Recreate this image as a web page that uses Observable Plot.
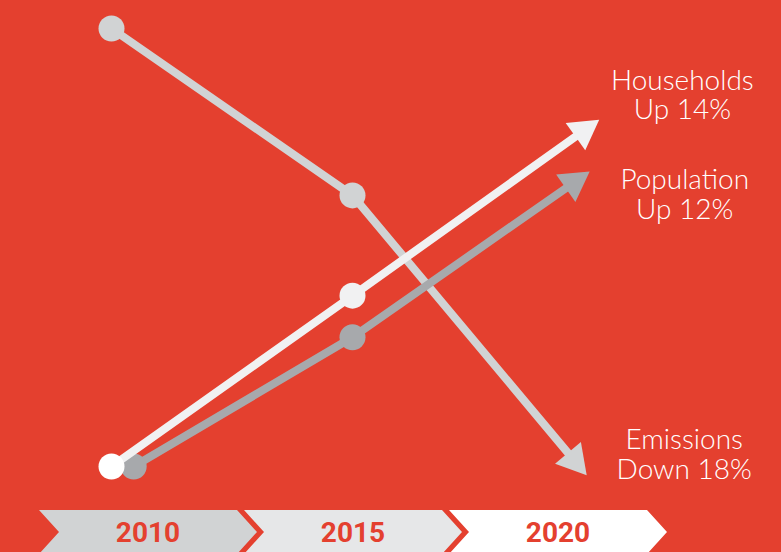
<!DOCTYPE html>
<html><head><meta charset="utf-8">
<script src="https://cdn.jsdelivr.net/npm/d3@7"></script>
<script src="https://cdn.jsdelivr.net/npm/@observablehq/plot@0.6"></script>
<style>
html,body{margin:0;padding:0;background:#e4402f;overflow:hidden;}
#chart svg{display:block;}
#steps{position:relative;height:42px;width:781px;}
.step{position:absolute;top:0;width:218px;height:44px;
  clip-path:polygon(0 0,198px 0,218px 22px,198px 44px,0 44px,20px 22px);
  font:700 28px Roboto,sans-serif;color:#e4402f;display:flex;align-items:center;justify-content:center;}
</style></head>
<body><div id="chart"></div><div id="steps"></div>
<script>
// Illustrative index values (x = year, y = relative level 0–100)
const emissionsX  = [2010, 2015, 2019.6];
const emissionsY  = [100, 61.9, 1.4];
const populationX = [2010.46, 2015, 2019.59];
const populationY = [0, 29.5, 64.8];
const householdsX = [2010, 2015, 2019.79];
const householdsY = [0, 39.0, 76.6];

const emissionsLabel  = "Emissions\nDown 18%";
const populationLabel = "Population\nUp 12%";
const householdsLabel = "Households\nUp 14%";

const yearLabels = ["2010", "2015", "2020"];
const stepColors = ["#d1d3d4", "#e6e7e8", "#ffffff"];

const xOpts = {type: "linear", domain: [2010, 2015], range: [111, 352]};
const yOpts = {type: "linear", domain: [0, 100], range: [466, 28]};
const sx = Plot.scale({x: xOpts});
const sy = Plot.scale({y: yOpts});

const series = [
  {xs: emissionsX,  ys: emissionsY,  label: emissionsLabel,  color: "#d1d3d4", first: "#d1d3d4", dx: 110, dy: -6},
  {xs: populationX, ys: populationY, label: populationLabel, color: "#a7a9ac", first: "#a7a9ac", dx: 111, dy: 12},
  {xs: householdsX, ys: householdsY, label: householdsLabel, color: "#f1f1f2", first: "#ffffff", dx: 99,  dy: -36}
];

const marks = [];
for (const s of series) {
  const pts = s.xs.map((x, i) => ({x, y: s.ys[i]}));
  const a = pts[1], b = pts[2];
  const ddx = sx.apply(b.x) - sx.apply(a.x);
  const ddy = sy.apply(b.y) - sy.apply(a.y);
  const angle = Math.atan2(ddx, -ddy) * 180 / Math.PI;
  marks.push(
    Plot.line(pts, {x: "x", y: "y", stroke: s.color, strokeWidth: 8}),
    Plot.dot(pts.slice(0, 1), {x: "x", y: "y", r: 13, fill: s.first}),
    Plot.dot(pts.slice(1, 2), {x: "x", y: "y", r: 13, fill: s.color}),
    Plot.dot(pts.slice(2), {x: "x", y: "y", r: 12.5, symbol: "triangle", fill: s.color, rotate: angle}),
    Plot.text(pts.slice(2), {x: "x", y: "y", text: () => s.label, dx: s.dx, dy: s.dy,
      fill: "white", fontSize: 28, fontFamily: "Lato, 'Open Sans', sans-serif", fontWeight: 300, lineHeight: 1.06})
  );
}

const plot = Plot.plot({
  width: 781, height: 510,
  margin: 0,
  x: {...xOpts, axis: null},
  y: {...yOpts, axis: null},
  style: {background: "#e4402f", overflow: "visible"},
  marks
});
document.getElementById("chart").append(plot);

const steps = document.getElementById("steps");
yearLabels.forEach((t, i) => {
  const d = document.createElement("div");
  d.className = "step";
  d.style.left = (39 + i * 205) + "px";
  d.style.background = stepColors[i];
  d.textContent = t;
  steps.append(d);
});
</script></body></html>
